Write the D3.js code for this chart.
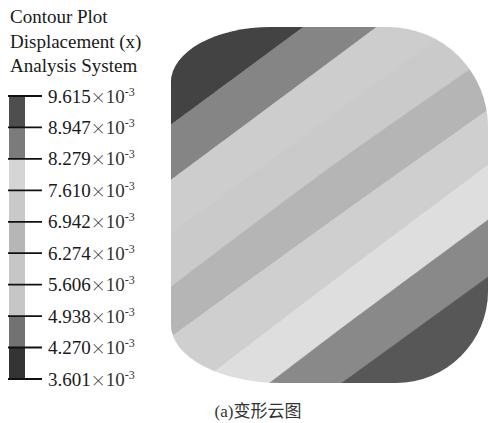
<!DOCTYPE html>
<html>
<head>
<meta charset="utf-8">
<script src="https://cdn.jsdelivr.net/npm/d3@7"></script>
<style>
  html, body { margin: 0; padding: 0; background: #fff; }
  svg { display: block; }
</style>
</head>
<body>
<div id="chart"></div>
<script>
// legend levels (x 10^-3)
const levelValues = [9.615, 8.947, 8.279, 7.610, 6.942, 6.274, 5.606, 4.938, 4.270, 3.601];
const legendColors = ["#4e4e4e", "#7b7b7b", "#d5d5d5", "#c9c9c9", "#b6b6b6", "#c6c6c6", "#c6c6c6", "#727272", "#343434"];
const titleLines = ["Contour Plot", "Displacement (x)", "Analysis System"];
const caption = "(a)变形云图";

// contour bands in the part, top-left to bottom-right
const bandColors = ["#434343", "#858585", "#cdcdcd", "#cacaca", "#b5b5b5", "#cfcfcf", "#dedede", "#898989", "#575757"];
// band boundaries, model y (0 bottom .. 100 top) read at model x positions
const sampleX = [0, 50, 100];
const boundaryY = [
    [72.5, 105.4, 138.4],
    [57.0, 90.1, 123.2],
    [42.1, 74.7, 107.3],
    [27.0, 60.4, 91.6],
    [12.9, 45.1, 76.7],
    [-6.2, 27.8, 61.2],
    [-21.3, 12.8, 45.8],
    [-34.6, -2.5, 29.8]
];

const W = 489, H = 423;
const svg = d3.select("#chart").append("svg")
    .attr("width", W)
    .attr("height", H);

// ---- part ----
const part = { left: 171, right: 488, top: 27, bottom: 383 };
const x = d3.scaleLinear().domain([0, 100]).range([part.left, part.right]);
const y = d3.scaleLinear().domain([0, 100]).range([part.bottom, part.top]);

// corner radii (px): tl, tr, br, bl
const rTL = [100, 55], rTR = [100, 100], rBR = [92, 92], rBL = [110, 58];
const outline = [
    `M${part.left + rTL[0]},${part.top}`,
    `L${part.right - rTR[0]},${part.top}`,
    `A${rTR[0]},${rTR[1]} 0 0 1 ${part.right},${part.top + rTR[1]}`,
    `L${part.right},${part.bottom - rBR[1]}`,
    `A${rBR[0]},${rBR[1]} 0 0 1 ${part.right - rBR[0]},${part.bottom}`,
    `L${part.left + rBL[0]},${part.bottom}`,
    `A${rBL[0]},${rBL[1]} 0 0 1 ${part.left},${part.bottom - rBL[1]}`,
    `L${part.left},${part.top + rTL[1]}`,
    `A${rTL[0]},${rTL[1]} 0 0 1 ${part.left + rTL[0]},${part.top}`,
    "Z"
].join(" ");

svg.append("clipPath")
    .attr("id", "partClip")
    .append("path")
    .attr("d", outline);

const line = d3.line()
    .x(d => x(d[0]))
    .y(d => y(d[1]))
    .curve(d3.curveCatmullRom);

const toPts = ys => sampleX.map((sx, i) => [sx, ys[i]]);
const topEdge = sampleX.map(() => 200);
const bottomEdge = sampleX.map(() => -150);
const edges = [topEdge, ...boundaryY, bottomEdge];

const bands = bandColors.map((c, i) => {
    const upper = line(toPts(edges[i]));
    const lower = line(toPts(edges[i + 1]).reverse());
    return { color: c, d: upper + "L" + lower.slice(1) + "Z" };
});

const gPart = svg.append("g").attr("clip-path", "url(#partClip)");
gPart.selectAll("path.band")
    .data(bands)
    .enter().append("path")
    .attr("class", "band")
    .attr("d", d => d.d)
    .attr("fill", d => d.color)
    .attr("stroke", d => d.color)
    .attr("stroke-width", 0.6);

// ---- legend ----
const font = "'Liberation Serif', 'Times New Roman', serif";

svg.append("g")
    .selectAll("text")
    .data(titleLines)
    .enter().append("text")
    .attr("x", 10)
    .attr("y", (d, i) => 23 + i * 24.5)
    .style("font-family", font)
    .style("font-size", "19px")
    .style("fill", "#1a1a1a")
    .text(d => d);

const ly = d3.scaleLinear()
    .domain([levelValues[0], levelValues[levelValues.length - 1]])
    .range([96, 379]);

const gLeg = svg.append("g");

gLeg.selectAll("rect")
    .data(legendColors)
    .enter().append("rect")
    .attr("x", 9)
    .attr("width", 16)
    .attr("y", (d, i) => ly(levelValues[i]))
    .attr("height", (d, i) => ly(levelValues[i + 1]) - ly(levelValues[i]))
    .attr("fill", d => d);

gLeg.selectAll("line")
    .data(levelValues)
    .enter().append("line")
    .attr("x1", 8)
    .attr("x2", 42)
    .attr("y1", d => ly(d))
    .attr("y2", d => ly(d))
    .attr("stroke", "#111")
    .attr("stroke-width", 1.8);

const labels = gLeg.selectAll("text")
    .data(levelValues)
    .enter().append("text")
    .attr("x", 48)
    .attr("y", d => ly(d) + 6.5)
    .style("font-family", font)
    .style("font-size", "19px")
    .style("fill", "#1a1a1a");

labels.append("tspan").text(d => d.toFixed(3));
labels.append("tspan")
    .style("font-family", "'Noto Sans CJK SC', sans-serif")
    .style("font-size", "15px")
    .style("font-weight", 300)
    .style("fill", "#333")
    .text("×");
labels.append("tspan")
    .style("fill", "#333")
    .text("10");
labels.append("tspan")
    .attr("dy", -7)
    .style("font-size", "12px")
    .style("fill", "#333")
    .text("-3");

// ---- caption ----
svg.append("text")
    .attr("x", 258)
    .attr("y", 417)
    .attr("text-anchor", "middle")
    .style("font-family", "'Liberation Serif', 'Noto Sans CJK SC', serif")
    .style("font-size", "17px")
    .style("fill", "#333")
    .text(caption);
</script>
</body>
</html>
